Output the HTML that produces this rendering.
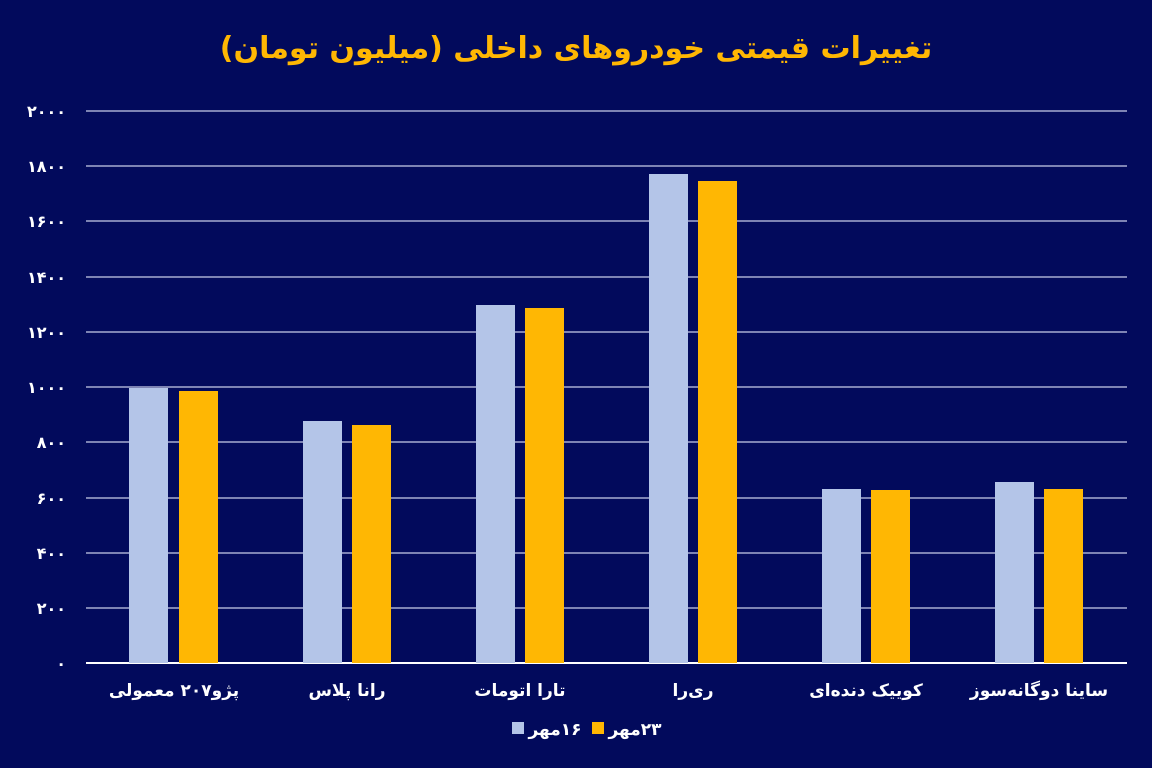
<!DOCTYPE html>
<html><head><meta charset="utf-8"><style>
html,body{margin:0;padding:0;background:#020a5c;}
svg{display:block}
text{font-family:"DejaVu Sans","Liberation Sans",sans-serif;font-weight:bold;fill:#fff}
</style></head><body>
<svg width="1152" height="768" viewBox="0 0 1152 768">
<rect width="1152" height="768" fill="#020a5c"/>
<text x="576" y="58" text-anchor="middle" font-size="30" style="fill:#ffb703">&#x202B;تغییرات قیمتی خودروهای داخلی (میلیون تومان)&#x202C;</text>
<g stroke="#c8cde8" stroke-width="1.3">
<line x1="86" y1="111" x2="1127" y2="111"/><line x1="86" y1="166" x2="1127" y2="166"/>
<line x1="86" y1="221" x2="1127" y2="221"/><line x1="86" y1="277" x2="1127" y2="277"/>
<line x1="86" y1="332" x2="1127" y2="332"/><line x1="86" y1="387" x2="1127" y2="387"/>
<line x1="86" y1="442" x2="1127" y2="442"/><line x1="86" y1="498" x2="1127" y2="498"/>
<line x1="86" y1="553" x2="1127" y2="553"/><line x1="86" y1="608" x2="1127" y2="608"/>
</g>
<line x1="86" y1="663" x2="1127" y2="663" stroke="#ffffff" stroke-width="2"/>
<g font-size="16" text-anchor="end">
<text x="66" y="117">۲۰۰۰</text><text x="66" y="172">۱۸۰۰</text><text x="66" y="227">۱۶۰۰</text>
<text x="66" y="283">۱۴۰۰</text><text x="66" y="338">۱۲۰۰</text><text x="66" y="393">۱۰۰۰</text>
<text x="66" y="448">۸۰۰</text><text x="66" y="504">۶۰۰</text><text x="66" y="559">۴۰۰</text>
<text x="66" y="614">۲۰۰</text><text x="66" y="669">۰</text>
</g>
<g fill="#b4c5e8">
<rect x="129" y="388" width="39" height="275"/><rect x="303" y="421" width="39" height="242"/>
<rect x="476" y="305" width="39" height="358"/><rect x="649" y="174" width="39" height="489"/>
<rect x="822" y="489" width="39" height="174"/><rect x="995" y="482" width="39" height="181"/>
</g>
<g fill="#ffb703">
<rect x="179" y="391" width="39" height="272"/><rect x="352" y="425" width="39" height="238"/>
<rect x="525" y="308" width="39" height="355"/><rect x="698" y="181" width="39" height="482"/>
<rect x="871" y="490" width="39" height="173"/><rect x="1044" y="489" width="39" height="174"/>
</g>
<g font-size="17" text-anchor="middle">
<text x="174" y="696">&#x202B;پژو۲۰۷ معمولی&#x202C;</text>
<text x="347" y="696">&#x202B;رانا پلاس&#x202C;</text>
<text x="520" y="696">&#x202B;تارا اتومات&#x202C;</text>
<text x="693" y="696">&#x202B;ری‌را&#x202C;</text>
<text x="866" y="696">&#x202B;کوییک دنده‌ای&#x202C;</text>
<text x="1039" y="696">&#x202B;ساینا دوگانه‌سوز&#x202C;</text>
</g>
<rect x="512" y="722" width="12" height="12" fill="#b4c5e8"/>
<text x="555" y="735" font-size="17" text-anchor="middle">&#x202B;۱۶مهر&#x202C;</text>
<rect x="592" y="722" width="12" height="12" fill="#ffb703"/>
<text x="635" y="735" font-size="17" text-anchor="middle">&#x202B;۲۳مهر&#x202C;</text>
</svg>
</body></html>
